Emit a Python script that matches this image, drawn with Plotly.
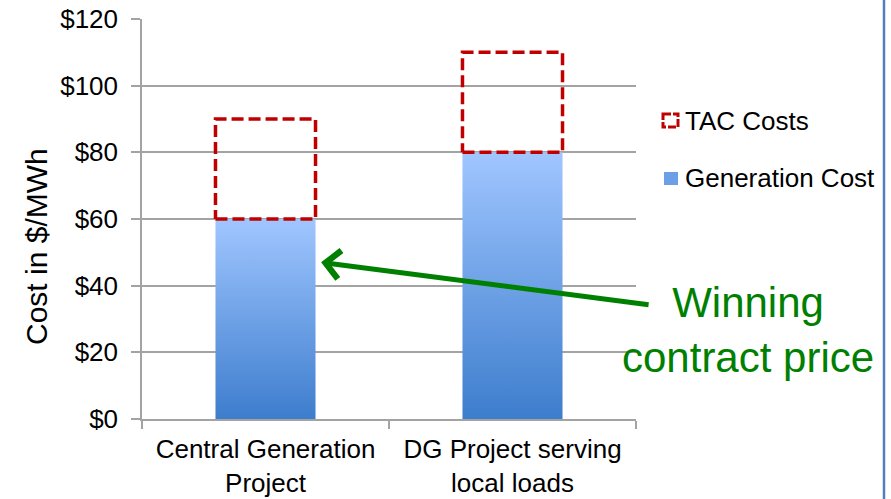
import plotly.graph_objects as go

# Cost comparison data ($/MWh)
categories = ["Central Generation<br>Project", "DG Project serving<br>local loads"]
generation_cost = [60, 80]
tac_costs = [30, 30]
y_ticks = [0, 20, 40, 60, 80, 100, 120]
series_names = ["TAC Costs", "Generation Cost"]

FONT = "Liberation Sans, Arial, sans-serif"
GRID = "#a3a3a3"
BAR_W = 0.405
GRAD = [[0, "#3d7dcd"], [1, "#a0c6ff"]]

# plot area in pixels (left, right, top, bottom)
PL, PR, PT, PB = 142, 636, 19, 419


def px(xp, yp):
    """Pixel position -> paper coordinates."""
    return (xp - PL) / (PR - PL), (PB - yp) / (PB - PT)


fig = go.Figure()

# Generation cost columns: vertical blue gradient, dark at the base
for i, val in enumerate(generation_cost):
    x0, x1 = i - BAR_W / 2, i + BAR_W / 2
    fig.add_trace(go.Scatter(
        x=[x0, x1, x1, x0, x0], y=[0, 0, val, val, 0],
        mode="lines", fill="toself", line=dict(width=0, color="#6a9de6"),
        fillgradient=dict(type="vertical", colorscale=GRAD),
        name=series_names[1], showlegend=False, hoverinfo="skip",
    ))

# TAC costs stacked on top: unfilled boxes with red dashed outline
for i, (base, val) in enumerate(zip(generation_cost, tac_costs)):
    x0, x1 = i - BAR_W / 2, i + BAR_W / 2
    top = base + val
    fig.add_trace(go.Scatter(
        x=[x0, x1, x1, x0, x0], y=[base, base, top, top, base],
        mode="lines", line=dict(color="#c00000", width=3.5, dash="12px,5px"),
        name=series_names[0], showlegend=False, hoverinfo="skip",
    ))

# Arrow pointing at the winning bid
fig.add_annotation(
    x=0.225, y=47, ax=1.557, ay=34.2, xref="x", yref="y", axref="x", ayref="y",
    text="", showarrow=True, arrowhead=4, arrowsize=1.1, arrowwidth=5,
    arrowcolor="#008000",
)
tx, ty = px(748, 330)
fig.add_annotation(
    x=tx, y=ty, xref="paper", yref="paper", xanchor="center", yanchor="middle",
    text="Winning<br>contract price", showarrow=False,
    font=dict(family=FONT, size=42, color="#008000"),
)

# Y-axis title, set a little below the plot's mid-height
yx, yy = px(36, 247)
fig.add_annotation(
    x=yx, y=yy, xref="paper", yref="paper", xanchor="center", yanchor="middle",
    text="Cost in $/MWh", textangle=-90, showarrow=False,
    font=dict(family=FONT, size=30, color="black"),
)

# Legend: dashed red box and gradient-blue swatch
lx0, ly0 = px(663, 114)
lx1, ly1 = px(678, 127)
fig.add_shape(type="rect", xref="paper", yref="paper", x0=lx0, x1=lx1, y0=ly0, y1=ly1,
              line=dict(color="#c00000", width=3, dash="8px,2px"),
              fillcolor="rgba(0,0,0,0)")
gx0, gy0 = px(664, 172)
gx1, gy1 = px(678, 185)
fig.add_shape(type="rect", xref="paper", yref="paper", x0=gx0, x1=gx1, y0=gy0, y1=gy1,
              line=dict(width=0), fillcolor="#6d9fe6")
for name, yp in zip(series_names, [121, 178]):
    ax_, ay_ = px(683, yp)
    fig.add_annotation(
        x=ax_, y=ay_, xref="paper", yref="paper", xanchor="left", yanchor="middle",
        text=name, showarrow=False, font=dict(family=FONT, size=26, color="black"),
    )

fig.update_layout(
    width=891, height=499,
    margin=dict(l=PL, r=891 - PR, t=PT, b=499 - PB),
    paper_bgcolor="white", plot_bgcolor="white",
    font=dict(family=FONT, size=26, color="black"),
    showlegend=False,
    xaxis=dict(
        range=[-0.5, 1.5], tickmode="array", tickvals=[0, 1], ticktext=categories,
        ticks="", showgrid=False, zeroline=False, automargin=False,
        showline=True, linecolor=GRID, linewidth=1.5,
        ticklabelstandoff=6,
        minor=dict(tickmode="array", tickvals=[-0.5, 0.5, 1.5], ticks="outside",
                   ticklen=8, tickcolor=GRID, tickwidth=1.5, showgrid=False),
        fixedrange=True,
    ),
    yaxis=dict(
        range=[0, 120], tickmode="array", tickvals=y_ticks,
        ticktext=[f"${v}" for v in y_ticks], automargin=False,
        showgrid=True, gridcolor=GRID, gridwidth=1.5, zeroline=False,
        showline=True, linecolor=GRID, linewidth=1.5,
        ticks="outside", ticklen=9, tickcolor=GRID, tickwidth=1.5,
        ticklabelstandoff=8,
        fixedrange=True,
    ),
)

# Slide border on the right edge
bx, _ = px(884, 0)
fig.add_shape(type="line", xref="paper", yref="paper",
              x0=bx, x1=bx, y0=px(0, 510)[1], y1=px(0, -10)[1],
              line=dict(color="#4f81bd", width=2.5))

fig.write_html("out.html")
